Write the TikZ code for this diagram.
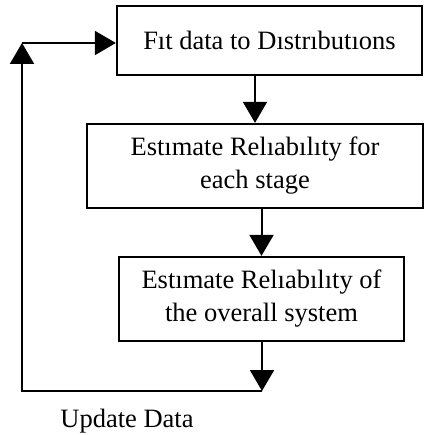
\documentclass[tikz,border=0pt]{standalone}
\usepackage{fontspec}
\setmainfont{Liberation Serif}
\usetikzlibrary{arrows.meta}
\tikzstyle{stage}=[draw, line width=2.3pt, align=center, inner sep=0pt, font=\fontsize{26.5}{33}\selectfont]
\tikzstyle{object}=[line width=2pt]
\tikzstyle{flow}=[object, -{Triangle[length=21pt, width=24pt]}]

\begin{document}
\begin{tikzpicture}[x=1pt, y=-1pt]
          \useasboundingbox (0, 0) rectangle (424, 435);
          \node[stage, minimum width=305pt, minimum height=69pt] (fit_box) at (269.5, 40.5) {Fıt data to Dıstrıbutıons};
          \node[stage, minimum width=336pt, minimum height=84pt] (est_stage) at (255, 166) {Estımate Relıabılıty for\\each stage};
          \node[stage, minimum width=285pt, minimum height=84pt] (est_system) at (261.5, 299) {Estımate Relıabılıty of\\the overall system};
          \coordinate (update_right) at (262, 391);
          \coordinate (update_left) at (22, 391);
          \coordinate (update_top) at (22, 43);
          \node[font=\fontsize{26.5}{33}\selectfont, anchor=base, inner sep=0pt] (update_label) at (127, 427) {Update Data};

          \draw[flow] (fit_box.south -| est_stage) -- (est_stage.north);
          \draw[flow] (est_stage.south -| est_system) -- (est_system.north);
          \draw[flow] (est_system.south -| update_right) -- (update_right);
          \draw[flow] (update_right) -- (update_left) -- (update_top);
          \draw[flow] (update_top) -- (update_top -| fit_box.west);
        \end{tikzpicture}
\end{document}
